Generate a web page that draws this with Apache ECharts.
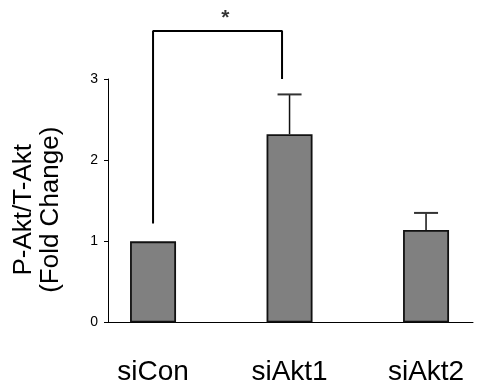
<!DOCTYPE html>
<html><head><meta charset="utf-8">
<script src="https://cdn.jsdelivr.net/npm/echarts@6/dist/echarts.min.js"></script>
<style>html,body{margin:0;padding:0;background:#fff}#c{width:486px;height:388px}</style>
</head><body><div id="c"></div>
<script>
var categories = ['siCon', 'siAkt1', 'siAkt2'];
var means = [1.0, 2.32, 1.14];
var errUpper = [0, 0.49, 0.21];
var yTicks = [0, 1, 2, 3];
var sigBracket = [[0, 1.22], [0, 3.59], [0.945, 3.59], [0.945, 3.0]];
var sigStar = [[0.53, 3.75]];
var sigLabel = '*';

var FONT = '"Liberation Sans", Arial, sans-serif';
var chart = echarts.init(document.getElementById('c'));
var barData = means.map(function (v, i) { return [i, v]; });
var errData = means.map(function (v, i) { return [i, v, v + errUpper[i]]; });

chart.setOption({
  animation: false,
  backgroundColor: '#fff',
  grid: { left: 108, right: 13, top: 79, bottom: 65.5, containLabel: false, outerBoundsMode: 'none' },
  xAxis: {
    type: 'value', min: -0.33, max: 2.344,
    splitLine: { show: false },
    axisLine: { show: true, onZero: false, lineStyle: { color: '#000', width: 1 } },
    axisTick: { show: false },
    axisLabel: {
      customValues: [0, 1, 2],
      formatter: function (v) { return categories[Math.round(v)]; },
      fontFamily: FONT, fontSize: 28, color: '#000', margin: 36
    }
  },
  yAxis: {
    type: 'value', min: 0, max: 3, interval: 1,
    splitLine: { show: false },
    axisLine: { show: true, onZero: false, lineStyle: { color: '#000', width: 1 } },
    axisTick: { show: true, length: 4, lineStyle: { color: '#000', width: 1 } },
    axisLabel: { fontFamily: FONT, fontSize: 14, color: '#000', margin: 10,
      formatter: function (v) { return yTicks.indexOf(v) >= 0 ? String(v) : ''; } },
    name: 'P-Akt/T-Akt\n(Fold Change)',
    nameLocation: 'middle', nameRotate: 90, nameGap: 44,
    nameTextStyle: { fontFamily: FONT, fontSize: 26, color: '#000', lineHeight: 27, padding: [0, 18, 0, 0] }
  },
  series: [
    {
      type: 'bar', data: barData, barWidth: 46,
      itemStyle: { color: '#808080', borderColor: '#111', borderWidth: 1.8 }
    },
    {
      type: 'custom', data: errData, z: 3,
      renderItem: function (params, api) {
        var x = api.value(0), lo = api.value(1), hi = api.value(2);
        if (hi <= lo) return null;
        var p0 = api.coord([x, lo]), p1 = api.coord([x, hi]);
        var half = 12;
        return { type: 'group', children: [
          { type: 'line', shape: { x1: p0[0], y1: p0[1], x2: p1[0], y2: p1[1] }, style: { stroke: '#111', lineWidth: 1.5 } },
          { type: 'line', shape: { x1: p1[0] - half, y1: p1[1], x2: p1[0] + half, y2: p1[1] }, style: { stroke: '#333', lineWidth: 2 } }
        ]};
      }
    },
    {
      type: 'line', data: sigBracket, clip: false, symbol: 'none',
      lineStyle: { color: '#000', width: 2 }, z: 4
    },
    {
      type: 'scatter', data: sigStar, clip: false, symbolSize: 0,
      label: { show: true, position: 'inside', formatter: sigLabel, fontFamily: FONT, fontSize: 21, fontWeight: 'bold', color: '#000' }
    }
  ]
});
</script></body></html>
